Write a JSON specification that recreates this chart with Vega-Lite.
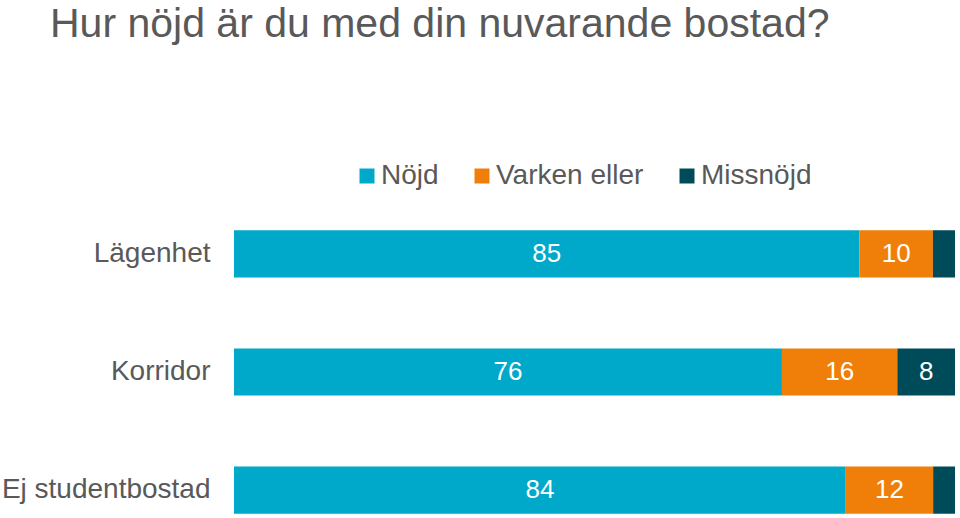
{
  "$schema": "https://vega.github.io/schema/vega-lite/v6.json",
  "width": 721,
  "height": 288,
  "autosize": {"type": "none"},
  "padding": {"left": 234, "top": 228, "right": 5, "bottom": 2},
  "background": "white",
  "config": {"view": {"stroke": null}, "font": "Liberation Sans"},
  "title": {
    "text": "Hur nöjd är du med din nuvarande bostad?",
    "anchor": "start",
    "frame": "group",
    "dx": -184,
    "dy": -112,
    "fontSize": 41,
    "fontWeight": "normal",
    "color": "#595959",
    "font": "Liberation Sans"
  },
  "data": {
    "values": [
      {"boende": "Lägenhet", "svar": "Nöjd", "ordning": 1, "andel": 85},
      {"boende": "Lägenhet", "svar": "Varken eller", "ordning": 2, "andel": 10},
      {"boende": "Lägenhet", "svar": "Missnöjd", "ordning": 3, "andel": 3},
      {"boende": "Korridor", "svar": "Nöjd", "ordning": 1, "andel": 76},
      {"boende": "Korridor", "svar": "Varken eller", "ordning": 2, "andel": 16},
      {"boende": "Korridor", "svar": "Missnöjd", "ordning": 3, "andel": 8},
      {"boende": "Ej studentbostad", "svar": "Nöjd", "ordning": 1, "andel": 84},
      {"boende": "Ej studentbostad", "svar": "Varken eller", "ordning": 2, "andel": 12},
      {"boende": "Ej studentbostad", "svar": "Missnöjd", "ordning": 3, "andel": 3}
    ]
  },
  "encoding": {
    "y": {
      "field": "boende",
      "type": "nominal",
      "sort": ["Lägenhet", "Korridor", "Ej studentbostad"],
      "scale": {"paddingInner": 0.6017, "paddingOuter": 0.02},
      "axis": {
        "title": null,
        "domain": false,
        "ticks": false,
        "labelFontSize": 28,
        "labelColor": "#595959",
        "labelPadding": 24,
        "labelFont": "Liberation Sans",
        "labelLimit": 300
      }
    },
    "x": {
      "field": "andel",
      "type": "quantitative",
      "stack": "normalize",
      "axis": null
    },
    "order": {"field": "ordning", "type": "quantitative"}
  },
  "layer": [
    {
      "mark": {"type": "bar"},
      "encoding": {
        "color": {
          "field": "svar",
          "type": "nominal",
          "sort": ["Nöjd", "Varken eller", "Missnöjd"],
          "scale": {"domain": ["Nöjd", "Varken eller", "Missnöjd"], "range": ["#00A9C9", "#F07F09", "#004B5A"]},
          "legend": {
            "title": null,
            "orient": "none",
            "direction": "horizontal",
            "legendX": 119,
            "legendY": -66,
            "padding": 0,
            "symbolType": "square",
            "symbolSize": 225,
            "symbolStrokeWidth": 0,
            "labelFontSize": 28,
            "labelColor": "#595959",
            "labelFont": "Liberation Sans",
            "labelOffset": 0,
            "columnPadding": 29,
            "labelLimit": 300
          }
        }
      }
    },
    {
      "mark": {"type": "text", "color": "white", "fontSize": 26, "font": "Liberation Sans", "baseline": "middle"},
      "encoding": {
        "x": {"field": "andel", "type": "quantitative", "stack": "normalize", "bandPosition": 0.5},
        "text": {"field": "andel", "type": "quantitative"},
        "opacity": {"condition": {"test": "datum.andel < 5", "value": 0}, "value": 1}
      }
    }
  ]
}
